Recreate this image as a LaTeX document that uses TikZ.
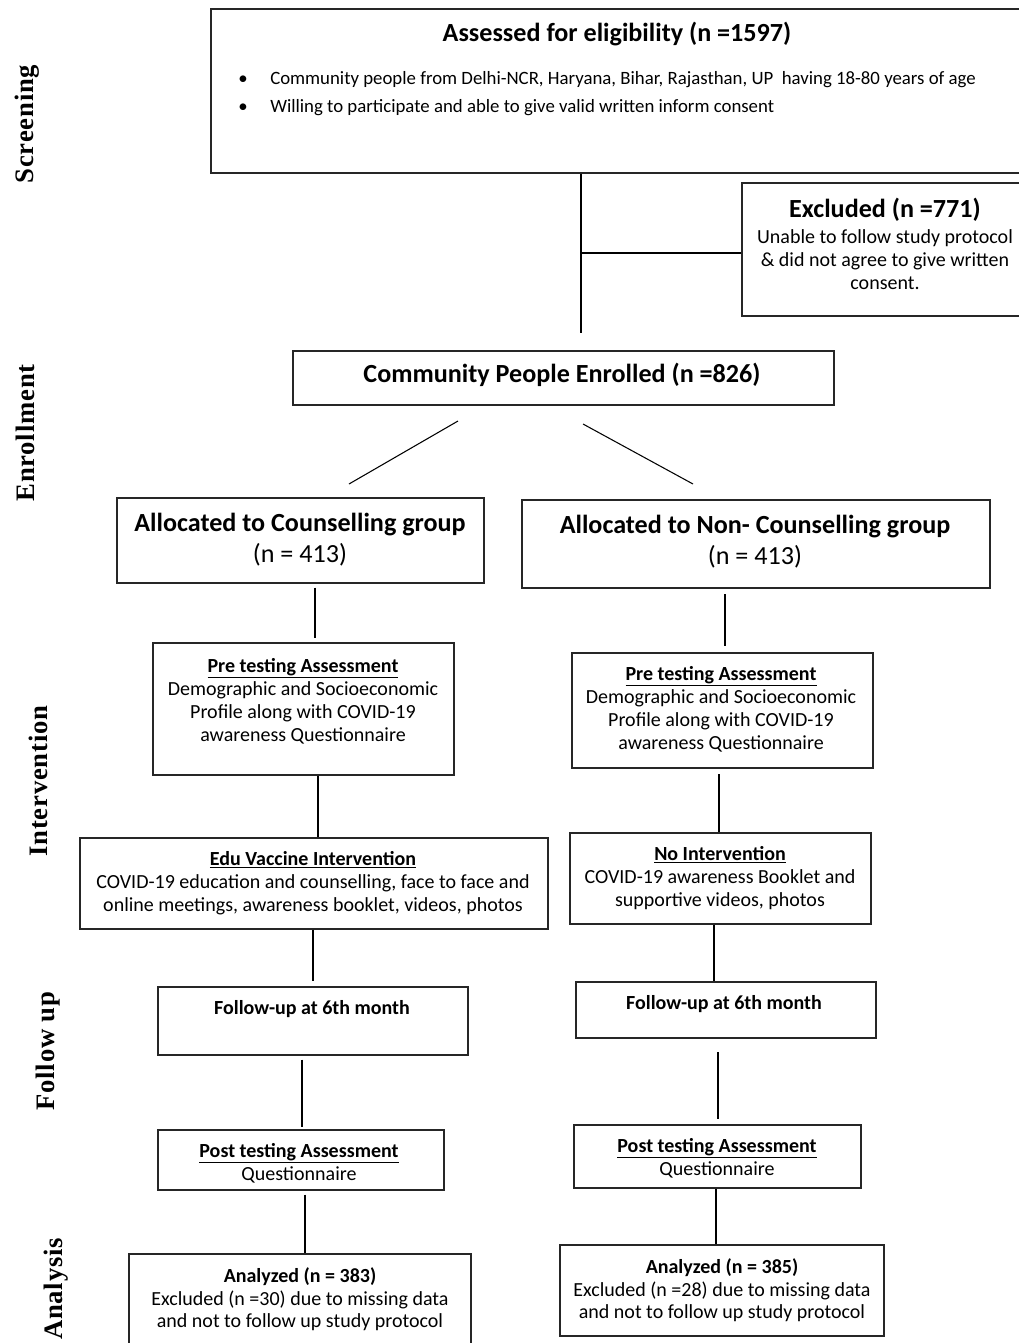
\documentclass[tikz,border=0pt]{standalone}
\usepackage{fontspec}
\setmainfont{Carlito}
\newfontfamily\sidefont[LetterSpace=3]{Liberation Serif}
\usetikzlibrary{fit,calc}
\begin{document}
\begin{tikzpicture}[x=0.75pt,y=-0.75pt,
  box/.style={draw=black!85, line width=1.1pt, inner sep=0pt},
  conn/.style={draw=black, line width=0.8pt},
  txt/.style={inner sep=0pt, align=center, anchor=north, font=\fontsize{15}{17.2}\selectfont},
  big/.style={inner sep=0pt, align=center, font=\bfseries\fontsize{19.6}{23}\selectfont},
  bul/.style={inner sep=0pt, font=\fontsize{14.1}{17}\selectfont},
  side/.style={rotate=90, anchor=base, inner sep=0pt, font=\sidefont\bfseries\fontsize{20}{24}\selectfont}]
\useasboundingbox (0,0) rectangle (1019,1343);

% side labels
\node[side] (sScr) at (33,124) {Screening};
\node[side] (sEnr) at (34,433) {Enrollment};
\node[side] (sInt) at (47,781) {Intervention};
\node[side] (sFol) at (54,1051) {Follow up};
\node[side] (sAna) at (62,1289) {Analysis};

% boxes
\node[box, fit={(211,9) (1030,173)}] (assess) {};
\node[box, fit={(742,183) (1030,316)}] (excl) {};
\node[box, fit={(293,351) (834,405)}] (enrol) {};
\node[box, fit={(117,498) (484,583)}] (allocL) {};
\node[box, fit={(522,500) (990,588)}] (allocR) {};
\node[box, fit={(153,643) (454,775)}] (preL) {};
\node[box, fit={(572,653) (873,768)}] (preR) {};
\node[box, fit={(80,838) (548,929)}] (eduL) {};
\node[box, fit={(570,833) (871,924)}] (noR) {};
\node[box, fit={(158,987) (468,1055)}] (fuL) {};
\node[box, fit={(576,982) (876,1038)}] (fuR) {};
\node[box, fit={(158,1130) (444,1190)}] (postL) {};
\node[box, fit={(574,1125) (861,1188)}] (postR) {};
\node[box, fit={(129,1254) (471,1360)}] (anL) {};
\node[box, fit={(560,1245) (884,1336)}] (anR) {};

% texts
\node[big] (tAss) at (617,34) {Assessed for eligibility (n =1597)};
\node[bul] (b1) at (243,80) {•};
\node[bul, anchor=west] (t1) at (270,80) {Community people from Delhi-NCR, Haryana, Bihar, Rajasthan, UP\ \ having 18-80 years of age};
\node[bul] (b2) at (243,108) {•};
\node[bul, anchor=west] (t2) at (270,108) {Willing to participate and able to give valid written inform consent};

\node[big] (tExT) at (885,210) {Excluded (n =771)};
\node[txt] (tEx) at (885,229) {Unable to follow study protocol\\ \& did not agree to give written\\ consent.};

\node[big] (tEnr) at (562,375) {Community People Enrolled (n =826)};

\node[txt, font=\fontsize{19.6}{23.3}\selectfont] (tAL) at (300,513) {\textbf{Allocated to Counselling group}\\ (n = 413)};
\node[txt, font=\fontsize{19.6}{23.3}\selectfont] (tAR) at (755,515) {\textbf{Allocated to Non- Counselling group}\\ (n = 413)};

\node[txt] (tPL) at (303,658) {\textbf{\underline{Pre testing Assessment}}\\ Demographic and Socioeconomic\\ Profile along with COVID-19\\ awareness Questionnaire};
\node[txt] (tPR) at (721,666) {\textbf{\underline{Pre testing Assessment}}\\ Demographic and Socioeconomic\\ Profile along with COVID-19\\ awareness Questionnaire};

\node[txt] (tEL) at (313,851) {\textbf{\underline{Edu Vaccine Intervention}}\\ COVID-19 education and counselling, face to face and\\ online meetings, awareness booklet, videos, photos};
\node[txt] (tNR) at (720,846) {\textbf{\underline{No Intervention}}\\ COVID-19 awareness Booklet and\\ supportive videos, photos};

\node[txt] (tFL) at (312,1000) {\textbf{Follow-up at 6th month}};
\node[txt] (tFR) at (724,995) {\textbf{Follow-up at 6th month}};

\node[txt] (tSL) at (299,1143) {\textbf{\underline{Post testing Assessment}}\\ Questionnaire};
\node[txt] (tSR) at (717,1138) {\textbf{\underline{Post testing Assessment}}\\ Questionnaire};

\node[txt] (tNL) at (300,1267) {\textbf{Analyzed (n = 383)}\\ Excluded (n =30) due to missing data\\ and not to follow up study protocol};
\node[txt] (tNRr) at (722,1258) {\textbf{Analyzed (n = 385)}\\ Excluded (n =28) due to missing data\\ and not to follow up study protocol};

% connectors
\coordinate (cA) at (581,333);
\coordinate (cB) at (581,253);
\draw[conn] (assess.south -| cA) -- (cA);
\draw[conn] (cB) -- (excl.west |- cB);
\coordinate (d1a) at (458,421); \coordinate (d1b) at (349,484);
\coordinate (d2a) at (583,424); \coordinate (d2b) at (693,484);
\draw[conn] (d1a) -- (d1b);
\draw[conn] (d2a) -- (d2b);

\coordinate (x1) at (315,0);
\coordinate (x2) at (725,0);
\coordinate (x3) at (318,0);
\coordinate (x4) at (719,0);
\coordinate (x5) at (313,0);
\coordinate (x6) at (714,0);
\coordinate (x7) at (302,0);
\coordinate (x8) at (718,0);
\coordinate (x9) at (305,0);
\coordinate (x10) at (716,0);
\draw[conn, shorten <=3pt, shorten >=3pt] (allocL.south -| x1) -- (preL.north -| x1);
\draw[conn, shorten <=4pt, shorten >=5pt] (allocR.south -| x2) -- (preR.north -| x2);
\draw[conn] (preL.south -| x3) -- (eduL.north -| x3);
\draw[conn, shorten <=4pt] (preR.south -| x4) -- (noR.north -| x4);
\draw[conn, shorten >=4pt] (eduL.south -| x5) -- (fuL.north -| x5);
\draw[conn] (noR.south -| x6) -- (fuR.north -| x6);
\draw[conn, shorten <=3pt, shorten >=2pt] (fuL.south -| x7) -- (postL.north -| x7);
\draw[conn, shorten <=10pt, shorten >=4pt] (fuR.south -| x8) -- (postR.north -| x8);
\draw[conn, shorten <=3pt] (postL.south -| x9) -- (anL.north -| x9);
\draw[conn] (postR.south -| x10) -- (anR.north -| x10);
\end{tikzpicture}
\end{document}
